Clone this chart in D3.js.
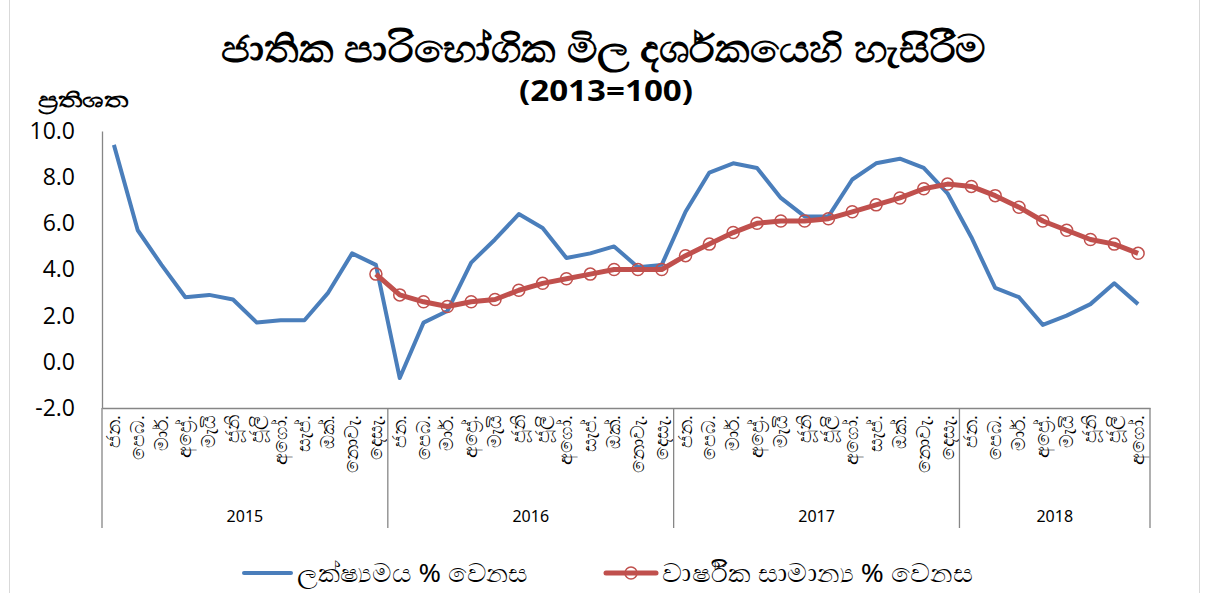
<!DOCTYPE html>
<html>
<head>
<meta charset="utf-8">
<script src="https://cdn.jsdelivr.net/npm/d3@7"></script>
<style>
  body { margin: 0; background: #fff; }
  svg { font-family: "Noto Sans", "Open Sans", sans-serif; }
</style>
</head>
<body>
<svg width="1205" height="593"></svg>
<script>
// months and years
var months = ["ජන.", "පෙබ.", "මාර්.", "අප්‍රේ.", "මැයි", "ජූනි", "ජූලි", "අගෝ.", "සැප්.", "ඔක්.", "නොවැ.", "දෙසැ."];
var years = ["2015", "2016", "2017", "2018"];
var monthsPerYear = [12, 12, 12, 8];

// point-to-point % change
var pointChange = [
  9.4, 5.7, 4.2, 2.8, 2.9, 2.7, 1.7, 1.8, 1.8, 3.0, 4.7, 4.2,
  -0.7, 1.7, 2.2, 4.3, 5.3, 6.4, 5.8, 4.5, 4.7, 5.0, 4.1, 4.2,
  6.5, 8.2, 8.6, 8.4, 7.1, 6.3, 6.3, 7.9, 8.6, 8.8, 8.4, 7.3,
  5.4, 3.2, 2.8, 1.6, 2.0, 2.5, 3.4, 2.5
];

// annual average % change (starts Dec 2015)
var annualAvg = [
  null, null, null, null, null, null, null, null, null, null, null, 3.8,
  2.9, 2.6, 2.4, 2.6, 2.7, 3.1, 3.4, 3.6, 3.8, 4.0, 4.0, 4.0,
  4.6, 5.1, 5.6, 6.0, 6.1, 6.1, 6.2, 6.5, 6.8, 7.1, 7.5, 7.7,
  7.6, 7.2, 6.7, 6.1, 5.7, 5.3, 5.1, 4.7
];

var yTicks = [-2, 0, 2, 4, 6, 8, 10];

var svg = d3.select("svg");
var plotLeft = 102, plotRight = 1150, plotTop = 131, plotBottom = 408;

var labels = [];
years.forEach(function(yr, i) {
  for (var m = 0; m < monthsPerYear[i]; m++) labels.push(months[m]);
});
var idx = d3.range(labels.length);

var x = d3.scaleBand().domain(idx).range([plotLeft, plotRight]);
var y = d3.scaleLinear().domain([-2, 10]).range([plotBottom, plotTop]);
var cx = function(i) { return x(i) + x.bandwidth() / 2; };

// outer border
svg.append("rect").attr("x", 9.5).attr("y", -2).attr("width", 1190).attr("height", 600)
  .attr("fill", "none").attr("stroke", "#d9d9d9");

// title
svg.append("text").attr("x", 603).attr("y", 62).attr("text-anchor", "middle")
  .attr("font-size", 38).attr("font-weight", "bold")
  .attr("textLength", 765).attr("lengthAdjust", "spacingAndGlyphs")
  .text("ජාතික පාරිභෝගික මිල දර්ශකයෙහි හැසිරීම");
svg.append("text").attr("x", 606).attr("y", 101).attr("text-anchor", "middle")
  .attr("font-size", 28).attr("font-weight", "bold")
  .attr("textLength", 174).attr("lengthAdjust", "spacingAndGlyphs")
  .text("(2013=100)");
svg.append("text").attr("x", 38).attr("y", 107)
  .attr("font-size", 21).attr("font-weight", "bold")
  .attr("textLength", 90).attr("lengthAdjust", "spacingAndGlyphs")
  .text("ප්‍රතිශත");

// y axis
var yAxis = d3.axisLeft(y).tickValues(yTicks).tickSize(0).tickPadding(27)
  .tickFormat(function(d) { return d.toFixed(1); });
var gy = svg.append("g").attr("transform", "translate(" + plotLeft + ",0)").call(yAxis);
gy.select(".domain").attr("stroke", "#868686").attr("stroke-width", 1.3);
gy.selectAll("text").attr("font-size", 23).attr("fill", "#000")
  .attr("font-family", "'Open Sans', 'Noto Sans', sans-serif");

// x axis (months)
var xAxis = d3.axisBottom(x).tickSize(0).tickPadding(0).tickFormat(function(i) { return labels[i]; });
var gx = svg.append("g").attr("transform", "translate(0," + plotBottom + ")").call(xAxis);
gx.select(".domain").attr("stroke", "#868686").attr("stroke-width", 1.3);
gx.selectAll("text")
  .attr("font-size", 19).attr("fill", "#000")
  .attr("text-anchor", "end")
  .attr("dy", null).attr("y", null)
  .attr("transform", "translate(6,7) rotate(-90)");

// year group separators and labels
var start = 0;
var bounds = [0];
monthsPerYear.forEach(function(n) { start += n; bounds.push(start); });
var bx = function(b) { return b < labels.length ? x(b) : plotRight; };
svg.selectAll(".sep").data(bounds).enter().append("line")
  .attr("x1", bx).attr("x2", bx)
  .attr("y1", plotBottom).attr("y2", 528)
  .attr("stroke", "#868686").attr("stroke-width", 1.3);
svg.selectAll(".yr").data(years).enter().append("text")
  .attr("x", function(d, i) { return (bx(bounds[i]) + bx(bounds[i + 1])) / 2; })
  .attr("y", 522).attr("text-anchor", "middle").attr("font-size", 16).text(function(d) { return d; });

// lines
var line = d3.line()
  .defined(function(d) { return d.v != null; })
  .x(function(d) { return cx(d.i); })
  .y(function(d) { return y(d.v); });

var blueData = pointChange.map(function(v, i) { return { i: i, v: v }; });
var redData = annualAvg.map(function(v, i) { return { i: i, v: v }; }).filter(function(d) { return d.v != null; });

svg.append("path").datum(blueData).attr("d", line)
  .attr("fill", "none").attr("stroke", "#4a7ebb").attr("stroke-width", 4).attr("stroke-linejoin", "round");

svg.append("path").datum(redData).attr("d", line)
  .attr("fill", "none").attr("stroke", "#c0504d").attr("stroke-width", 5).attr("stroke-linejoin", "round");

svg.selectAll(".mk").data(redData).enter().append("circle")
  .attr("cx", function(d) { return cx(d.i); })
  .attr("cy", function(d) { return y(d.v); })
  .attr("r", 6).attr("fill", "none").attr("stroke", "#c0504d").attr("stroke-width", 1.5);

// legend
var lg = svg.append("g");
lg.append("line").attr("x1", 244).attr("x2", 291).attr("y1", 573).attr("y2", 573)
  .attr("stroke", "#4a7ebb").attr("stroke-width", 4).attr("stroke-linecap", "round");
lg.append("text").attr("x", 297).attr("y", 582).attr("font-size", 26)
  .attr("textLength", 231).attr("lengthAdjust", "spacingAndGlyphs")
  .text("ලක්ෂ්‍යමය % වෙනස");
lg.append("line").attr("x1", 606).attr("x2", 656).attr("y1", 573).attr("y2", 573)
  .attr("stroke", "#c0504d").attr("stroke-width", 5).attr("stroke-linecap", "round");
lg.append("circle").attr("cx", 631).attr("cy", 573).attr("r", 6)
  .attr("fill", "none").attr("stroke", "#c0504d").attr("stroke-width", 1.5);
lg.append("text").attr("x", 662).attr("y", 582).attr("font-size", 26)
  .attr("textLength", 311).attr("lengthAdjust", "spacingAndGlyphs")
  .text("වාර්ෂික සාමාන්‍ය % වෙනස");
</script>
</body>
</html>
